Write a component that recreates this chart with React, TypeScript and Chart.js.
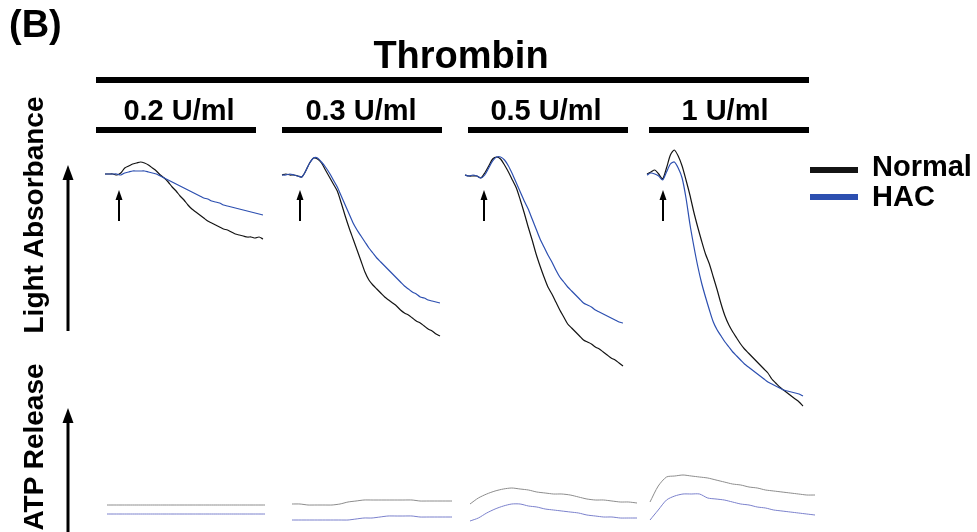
import React, { useEffect, useRef } from "react";
import { Chart, registerables } from "chart.js";

Chart.register(...registerables);

// ---------- DATA ----------
const PANELS = ["0.2 U/ml", "0.3 U/ml", "0.5 U/ml", "1 U/ml"];
const SERIES = ["Normal", "HAC"];

// Light absorbance traces, sampled every 12 s over 8 min (arbitrary units, baseline 0)
const ABS_TIME = Array.from({ length: 41 }, (_, i) => i * 12);

const ABS_NORMAL_02 = [2, 2, 2, 1, 3, 8, 10, 12, 13, 14, 13, 11, 8, 5, 1, -2, -6, -11, -15, -20, -24, -29, -33, -36, -39, -42, -45, -47, -49, -51, -53, -54, -56, -58, -59, -60, -61, -61, -62, -61, -63];
const ABS_HAC_02 = [2, 2, 2, 2, 1, 3, 4, 5, 5, 5, 5, 4, 3, 2, 0, -2, -4, -6, -8, -10, -12, -14, -16, -18, -20, -22, -23, -25, -26, -27, -29, -30, -31, -32, -33, -34, -35, -36, -37, -38, -39];

const ABS_NORMAL_03 = [1, 2, 1, 1, 0, -1, 5, 13, 18, 17, 13, 6, -1, -8, -15, -27, -40, -52, -63, -74, -85, -96, -104, -109, -113, -117, -121, -124, -127, -130, -134, -137, -139, -142, -145, -147, -150, -153, -155, -158, -160];
const ABS_HAC_03 = [1, 1, 2, 1, 0, -1, 5, 13, 18, 18, 14, 9, 3, -4, -11, -20, -29, -38, -47, -54, -60, -66, -72, -77, -82, -86, -90, -94, -98, -102, -106, -110, -113, -116, -118, -121, -122, -124, -125, -126, -127];

const ABS_NORMAL_05 = [1, 0, 0, 0, -2, 3, 10, 17, 19, 17, 11, 4, -4, -12, -24, -37, -51, -64, -78, -90, -101, -111, -118, -126, -134, -141, -148, -152, -156, -160, -164, -166, -168, -171, -173, -176, -179, -182, -184, -187, -190];
const ABS_HAC_05 = [1, 0, 1, 0, -2, 1, 8, 15, 19, 19, 16, 10, 2, -7, -16, -25, -33, -43, -53, -63, -71, -79, -86, -94, -101, -106, -111, -115, -119, -123, -127, -129, -131, -134, -136, -138, -140, -142, -144, -146, -147];

const ABS_NORMAL_1 = [2, 4, 6, 2, -3, 8, 21, 26, 20, 10, -4, -19, -36, -51, -65, -78, -88, -101, -114, -128, -140, -149, -156, -162, -168, -173, -177, -181, -185, -189, -193, -197, -203, -207, -211, -214, -217, -220, -223, -226, -230];
const ABS_HAC_1 = [1, 3, 2, 0, -4, 4, 12, 14, 8, -2, -22, -48, -70, -90, -107, -121, -134, -146, -154, -160, -166, -171, -176, -180, -184, -188, -191, -194, -197, -200, -203, -206, -208, -210, -212, -214, -215, -216, -217, -218, -220];

// ATP release traces, sampled every 24 s over 8 min (arbitrary units, baseline 0)
const ATP_TIME = Array.from({ length: 21 }, (_, i) => i * 24);

const ATP_NORMAL_02 = [0, 0, 0, 0, 0, 0, 0, 0, 0, 0, 0, 0, 0, 0, 0, 0, 0, 0, 0, 0, 0];
const ATP_HAC_02 = [7, 7, 7, 7, 7, 7, 7, 7, 7, 7, 7, 7, 7, 7, 7, 7, 7, 7, 7, 7, 7];
const ATP_NORMAL_03 = [1, 1, 0, 0, 0, 0, 1, 3, 4, 5, 5, 5, 5, 5, 5, 5, 4, 4, 4, 4, 4];
const ATP_HAC_03 = [1, 1, 1, 1, 1, 1, 1, 1, 2, 3, 3, 4, 5, 5, 5, 5, 4, 4, 4, 4, 4];
const ATP_NORMAL_05 = [1, 7, 11, 14, 16, 17, 16, 15, 13, 12, 11, 11, 10, 8, 6, 5, 5, 4, 3, 3, 2];
const ATP_HAC_05 = [0, 3, 8, 12, 15, 17, 17, 15, 14, 12, 11, 10, 9, 8, 6, 5, 4, 4, 3, 3, 3];
const ATP_NORMAL_1 = [3, 19, 28, 29, 30, 29, 28, 27, 25, 23, 21, 20, 18, 17, 15, 14, 13, 12, 11, 10, 10];
const ATP_HAC_1 = [1, 11, 21, 25, 27, 27, 27, 23, 22, 21, 19, 17, 16, 14, 13, 11, 10, 9, 8, 7, 6];

const ABS_NORMAL = [ABS_NORMAL_02, ABS_NORMAL_03, ABS_NORMAL_05, ABS_NORMAL_1];
const ABS_HAC = [ABS_HAC_02, ABS_HAC_03, ABS_HAC_05, ABS_HAC_1];
const ATP_NORMAL = [ATP_NORMAL_02, ATP_NORMAL_03, ATP_NORMAL_05, ATP_NORMAL_1];
const ATP_HAC = [ATP_HAC_02, ATP_HAC_03, ATP_HAC_05, ATP_HAC_1];

// ---------- LAYOUT ----------
const W = 977;
const H = 532;
const ABS_PX = [[105, 263], [282, 440], [465, 623], [647, 803]];
const ATP_PX = [[107, 265], [292, 452], [470, 637], [650, 815]];
const BAR_PX = [[96, 256], [282, 442], [468, 628], [649, 809]];
const LABEL_CX = [179, 361, 546, 725];
const TRIGGER_X = [119, 300, 484, 663];

const BLACK = "#141414";
const BLUE = "#2c4fb0";
const ATP_GRAY = "#8c8c8c";
const ATP_BLUE = "#7a80cc";
const FONT = '"Liberation Sans", Arial, Helvetica, sans-serif';

function xAxis(a: number, b: number, tMax: number) {
  const span = (tMax * W) / (b - a);
  const min = (-a * span) / W;
  return { type: "linear", display: false, min, max: min + span };
}
function yAxis(zeroPx: number) {
  return { type: "linear", display: false, min: zeroPx - H, max: zeroPx };
}

function drawArrow(ctx: CanvasRenderingContext2D, x: number, y0: number, y1: number, lw: number, hw: number, hh: number) {
  ctx.save();
  ctx.strokeStyle = "#000";
  ctx.fillStyle = "#000";
  ctx.lineWidth = lw;
  ctx.beginPath();
  ctx.moveTo(x, y0);
  ctx.lineTo(x, y1 + hh - 1);
  ctx.stroke();
  ctx.beginPath();
  ctx.moveTo(x, y1);
  ctx.lineTo(x - hw / 2, y1 + hh);
  ctx.lineTo(x + hw / 2, y1 + hh);
  ctx.closePath();
  ctx.fill();
  ctx.restore();
}

const arrowPlugin = {
  id: "arrows",
  afterDraw(chart: any) {
    const ctx = chart.ctx;
    drawArrow(ctx, 68, 331, 165, 3, 11, 15);
    drawArrow(ctx, 68, 532, 408, 3, 11, 15);
    TRIGGER_X.forEach((x) => drawArrow(ctx, x, 221, 190, 2, 7, 10));
  },
};

function Txt({ x, y, size, children, align = "center" }: any) {
  const lh = size;
  const top = y - 0.8465 * size;
  const style: any = {
    position: "absolute",
    top,
    fontFamily: FONT,
    fontWeight: "bold",
    fontSize: size,
    lineHeight: `${lh}px`,
    whiteSpace: "nowrap",
    color: "#000",
  };
  if (align === "center") {
    style.left = x;
    style.transform = "translateX(-50%)";
  } else {
    style.left = x;
  }
  return <div style={style}>{children}</div>;
}

function VTxt({ cx, cy, size, children }: any) {
  return (
    <div
      style={{
        position: "absolute",
        left: cx,
        top: cy,
        transform: "translate(-50%, -50%) rotate(-90deg)",
        fontFamily: FONT,
        fontWeight: "bold",
        fontSize: size,
        lineHeight: `${size}px`,
        whiteSpace: "nowrap",
        color: "#000",
      }}
    >
      {children}
    </div>
  );
}

function Bar({ x0, x1, y, h, color = "#000" }: any) {
  return <div style={{ position: "absolute", left: x0, top: y, width: x1 - x0, height: h, background: color }} />;
}

export default function App() {
  const ref = useRef<HTMLCanvasElement | null>(null);

  useEffect(() => {
    if (!ref.current) return;
    const datasets: any[] = [];
    const scales: any = {
      yAbs: yAxis(176),
      yAtpH: yAxis(521),
      yAtpN: yAxis(505),
    };
    PANELS.forEach((p, i) => {
      scales[`xa${i}`] = xAxis(ABS_PX[i][0], ABS_PX[i][1], 480);
      scales[`xt${i}`] = xAxis(ATP_PX[i][0], ATP_PX[i][1], 480);
      const mk = (label: string, t: number[], v: number[], xid: string, yid: string, color: string, bw: number) => ({
        label: `${label} ${p}`,
        data: t.map((tt, k) => ({ x: tt, y: v[k] })),
        xAxisID: xid,
        yAxisID: yid,
        borderColor: color,
        borderWidth: bw,
        pointRadius: 0,
        tension: 0.25,
        fill: false,
      });
      datasets.push(mk(`${SERIES[1]} ATP`, ATP_TIME, ATP_HAC[i], `xt${i}`, "yAtpH", ATP_BLUE, 1));
      datasets.push(mk(`${SERIES[0]} ATP`, ATP_TIME, ATP_NORMAL[i], `xt${i}`, "yAtpN", ATP_GRAY, 1));
      datasets.push(mk(SERIES[1], ABS_TIME, ABS_HAC[i], `xa${i}`, "yAbs", BLUE, 1.2));
      datasets.push(mk(SERIES[0], ABS_TIME, ABS_NORMAL[i], `xa${i}`, "yAbs", BLACK, 1.2));
    });

    const chart = new Chart(ref.current, {
      type: "line",
      data: { datasets },
      options: {
        animation: false,
        responsive: true,
        maintainAspectRatio: false,
        layout: { padding: 0 },
        plugins: { legend: { display: false }, tooltip: { enabled: false }, title: { display: false } },
        scales,
      } as any,
      plugins: [arrowPlugin],
    });
    return () => chart.destroy();
  }, []);

  return (
    <div style={{ position: "absolute", left: 0, top: 0, width: W, height: H, background: "#fff", overflow: "hidden" }}>
      <canvas ref={ref} style={{ position: "absolute", left: 0, top: 0 }} />
      <div style={{ position: "absolute", left: 0, top: 0, width: W, height: H, pointerEvents: "none" }}>
        <Txt x={9} y={37} size={38} align="left">(B)</Txt>
        <Txt x={461} y={68} size={38}>Thrombin</Txt>
        <Bar x0={96} x1={809} y={77} h={6} />
        {PANELS.map((p, i) => (
          <React.Fragment key={p}>
            <Txt x={LABEL_CX[i]} y={121} size={29}>{p}</Txt>
            <Bar x0={BAR_PX[i][0]} x1={BAR_PX[i][1]} y={127} h={6} />
          </React.Fragment>
        ))}
        <VTxt cx={34} cy={215} size={28}>Light Absorbance</VTxt>
        <VTxt cx={34} cy={447} size={28}>ATP Release</VTxt>
        <Bar x0={810} x1={858} y={167} h={6} color={BLACK} />
        <Txt x={872} y={177} size={29} align="left">{SERIES[0]}</Txt>
        <Bar x0={810} x1={858} y={194} h={6} color={BLUE} />
        <Txt x={872} y={207} size={29} align="left">{SERIES[1]}</Txt>
      </div>
    </div>
  );
}
